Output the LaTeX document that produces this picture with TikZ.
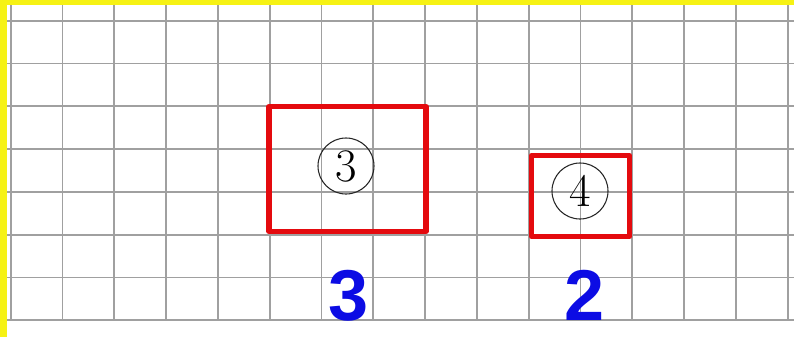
\documentclass[tikz,border=0pt]{standalone}
\usepackage{fontspec}
\usepackage{xcolor}
\newfontfamily\numfont{Liberation Sans}

\definecolor{gridgray}{RGB}{160,160,160}
\definecolor{markred}{RGB}{228,10,14}
\definecolor{numblue}{RGB}{12,12,228}
\definecolor{frameyellow}{RGB}{246,242,20}

\tikzset{
  gridline/.style={draw=gridgray, line width=1.4pt},
  redbox/.style={draw=markred, line width=3.8pt, line join=round, inner sep=0pt},
  circnum/.style={circle, draw=black!85, line width=0.8pt, inner sep=0pt, minimum size=42pt, font=\fontsize{35}{35}\selectfont},
  bluenum/.style={inner sep=0pt, text=numblue, font=\numfont\bfseries\fontsize{54}{54}\selectfont}
}

\begin{document}
\begin{tikzpicture}[x=0.75pt,y=0.75pt,yscale=-1,xscale=1]
\useasboundingbox (0,0) rectangle (794,337);

%Shape: Frame strips
\fill [frameyellow] (0,0) rectangle (7,337);
\fill [frameyellow] (0,0) rectangle (794,5);

%Straight Lines: vertical grid
\draw [gridline] (10.7,5) -- (10.7,320);
\draw [gridline] (62.5,5) -- (62.5,320);
\draw [gridline] (114.3,5) -- (114.3,320);
\draw [gridline] (166.1,5) -- (166.1,320);
\draw [gridline] (217.9,5) -- (217.9,320);
\draw [gridline] (269.7,5) -- (269.7,320);
\draw [gridline] (321.5,5) -- (321.5,320);
\draw [gridline] (373.3,5) -- (373.3,320);
\draw [gridline] (425.1,5) -- (425.1,320);
\draw [gridline] (476.9,5) -- (476.9,320);
\draw [gridline] (528.7,5) -- (528.7,320);
\draw [gridline] (580.5,5) -- (580.5,320);
\draw [gridline] (632.3,5) -- (632.3,320);
\draw [gridline] (684.1,5) -- (684.1,320);
\draw [gridline] (735.9,5) -- (735.9,320);
\draw [gridline] (787.7,5) -- (787.7,320);
%Straight Lines: horizontal grid
\draw [gridline] (7,20.7) -- (794,20.7);
\draw [gridline] (7,63.5) -- (794,63.5);
\draw [gridline] (7,106.3) -- (794,106.3);
\draw [gridline] (7,149.1) -- (794,149.1);
\draw [gridline] (7,191.9) -- (794,191.9);
\draw [gridline] (7,234.7) -- (794,234.7);
\draw [gridline] (7,277.5) -- (794,277.5);
\draw [gridline] (7,320.3) -- (794,320.3);

%Shape: Rectangle
\node [redbox, minimum width=117.75pt, minimum height=93.75pt] (boxthree) at (347.5,169) {};
%Shape: Rectangle
\node [redbox, minimum width=73.5pt, minimum height=60.75pt] (boxfour) at (580.5,196) {};

% Text Node
\node [circnum] (circthree) at (346,166) {3};
% Text Node
\node [circnum] (circfour) at (580,191) {4};

% Text Node
\node [bluenum] (sidethree) at (349,296) {3};
% Text Node
\node [bluenum] (sidetwo) at (584.5,295) {2};

\end{tikzpicture}
\end{document}
